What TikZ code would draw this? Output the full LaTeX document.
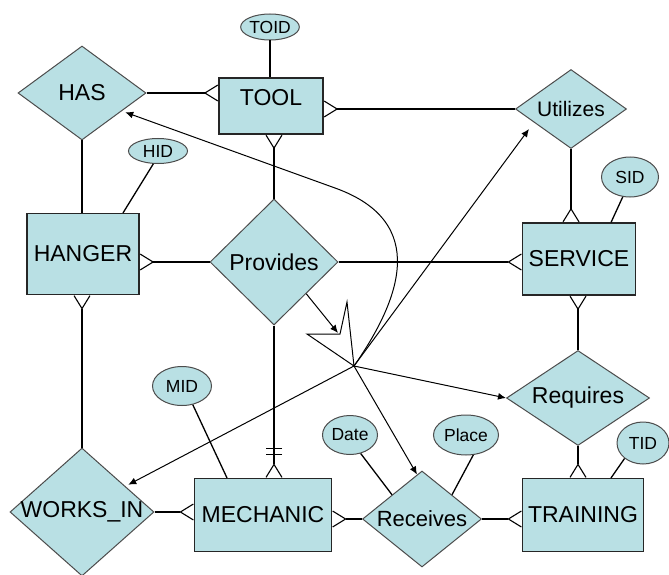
\documentclass[tikz,border=0pt]{standalone}
\usepackage{fontspec}
\setmainfont{Liberation Sans}
\usetikzlibrary{shapes.geometric,arrows.meta}
\definecolor{erfill}{RGB}{185,224,228}
\tikzset{
  entity/.style={draw=black!85, fill=erfill, line width=1.1pt, inner sep=0pt, font=\fontsize{23}{26}\selectfont},
  rel/.style={diamond, draw=black!70, fill=erfill, line width=1pt, inner sep=0pt, font=\fontsize{23}{26}\selectfont},
  attr/.style={ellipse, draw=black!70, fill=erfill, line width=1pt, inner sep=0pt, font=\fontsize{17.5}{20}\selectfont},
  link/.style={line width=1.3pt},
  many/.style={link, -{Straight Barb[reversed,length=13pt,width=16pt,line width=1.1pt]}},
  tip/.style={line width=1pt, -{Latex[length=8pt,width=7pt]}}
}

\begin{document}
\begin{tikzpicture}[x=1pt,y=-1pt]
%frame
\useasboundingbox (0,0) rectangle (669,575);
%entities, relations, attributes
\node[attr, minimum width=57pt, minimum height=26pt] (TOID) at (270,27) {TOID};
\node[entity, minimum width=104pt, minimum height=56pt] (TOOL) at (271,106) {\raisebox{18pt}{TOOL}};
\node[rel, minimum width=128pt, minimum height=94pt] (HAS) at (82,93) {\makebox[0pt]{HAS}};
\node[attr, minimum width=59pt, minimum height=25pt] (HID) at (158,151) {HID};
\node[entity, minimum width=112pt, minimum height=81pt] (HANGER) at (83,254) {HANGER};
\node[rel, minimum width=128pt, minimum height=126pt] (Provides) at (274,262) {\makebox[0pt]{Provides}};
\node[rel, minimum width=111pt, minimum height=79pt, font=\fontsize{21}{24}\selectfont] (Utilizes) at (571,109) {\makebox[0pt]{Utilizes}};
\node[attr, minimum width=57pt, minimum height=40pt] (SID) at (630,177) {SID};
\node[entity, minimum width=113pt, minimum height=72pt] (SERVICE) at (579,259) {SERVICE};
\node[rel, minimum width=143pt, minimum height=95pt] (Requires) at (578,398) {\makebox[0pt]{Requires}};
\node[attr, minimum width=52pt, minimum height=42pt] (TID) at (643,443) {TID};
\node[entity, minimum width=121pt, minimum height=73pt] (TRAINING) at (583,515) {TRAINING};
\node[rel, minimum width=119pt, minimum height=96pt, font=\fontsize{22}{25}\selectfont] (Receives) at (422,519) {\makebox[0pt]{Receives}};
\node[attr, minimum width=65pt, minimum height=40pt] (Place) at (466,435) {Place};
\node[attr, minimum width=55pt, minimum height=39pt] (Date) at (350,435) {Date};
\node[entity, minimum width=137pt, minimum height=73pt] (MECHANIC) at (263,515) {MECHANIC};
\node[attr, minimum width=59pt, minimum height=39pt] (MID) at (182,386) {MID};
\node[rel, minimum width=144pt, minimum height=128pt] (worksin) at (82,512) {\makebox[0pt]{WORKS\_IN}};
%links
\draw[link] (TOID) -- (TOID |- TOOL.north);
\draw[many] (HAS.east) -- (HAS.east -| TOOL.west);
\draw[many] (Utilizes.west) -- (Utilizes.west -| TOOL.east);
\draw[many] (Provides.north) -- (Provides.north |- TOOL.south);
\draw[link] (HAS.south) -- (HAS.south |- HANGER.north);
\draw[link] (HID.250) -- ([xshift=40pt]HANGER.north);
\draw[many] (Provides.west) -- (Provides.west -| HANGER.east);
\draw[many] (Provides.east) -- (Provides.east -| SERVICE.west);
\draw[many] (Utilizes.south) -- (Utilizes.south |- SERVICE.north);
\draw[link] (SID.250) -- ([xshift=32pt]SERVICE.north);
\draw[many] (Requires.north) -- (Requires.north |- SERVICE.south);
\draw[many] (Requires.south) -- (Requires.south |- TRAINING.north);
\draw[link] (TID.220) -- ([xshift=28pt]TRAINING.north);
\draw[many] (worksin.north) -- (worksin.north |- HANGER.south);
\draw[many] (worksin.east) -- (worksin.east -| MECHANIC.west);
\draw[link, -{Bar[width=16pt,line width=1.1pt,sep=5pt]Bar[width=16pt,line width=1.1pt,sep=8pt]Straight Barb[reversed,length=13pt,width=16pt,line width=1.1pt]}] (Provides.south) -- (Provides.south |- MECHANIC.north);
\draw[link] (MID.300) -- ([xshift=-36pt]MECHANIC.north);
\draw[many] (Receives.west) -- (Receives.west -| MECHANIC.east);
\draw[many] (Receives.east) -- (Receives.east -| TRAINING.west);
\draw[link] (Date.300) -- (Receives.north west);
\draw[link] (Place.290) -- (Receives.north east);
%arrows from the hub
\coordinate (hub) at (354,366);
\coordinate (bolt) at (338,333);
\draw[tip] (hub) -- ([xshift=-14pt]Utilizes.south west);
\draw[tip] (hub) -- ([xshift=10pt,yshift=-5pt]worksin.north east);
\draw[tip] (hub) -- (Requires.west);
\draw[tip] (hub) -- ([xshift=-5pt,yshift=-4pt]Receives.north);
\draw[tip] (hub) .. controls (400,300) and (430,222) .. (335,188) -- ([xshift=11pt,yshift=4.5pt]HAS.south east);
\draw[tip] (Provides.south east) -- (bolt);
\draw[line width=1pt] (hub) -- (307,334) -- (340,334) -- (347,302) -- cycle;
\end{tikzpicture}
\end{document}
